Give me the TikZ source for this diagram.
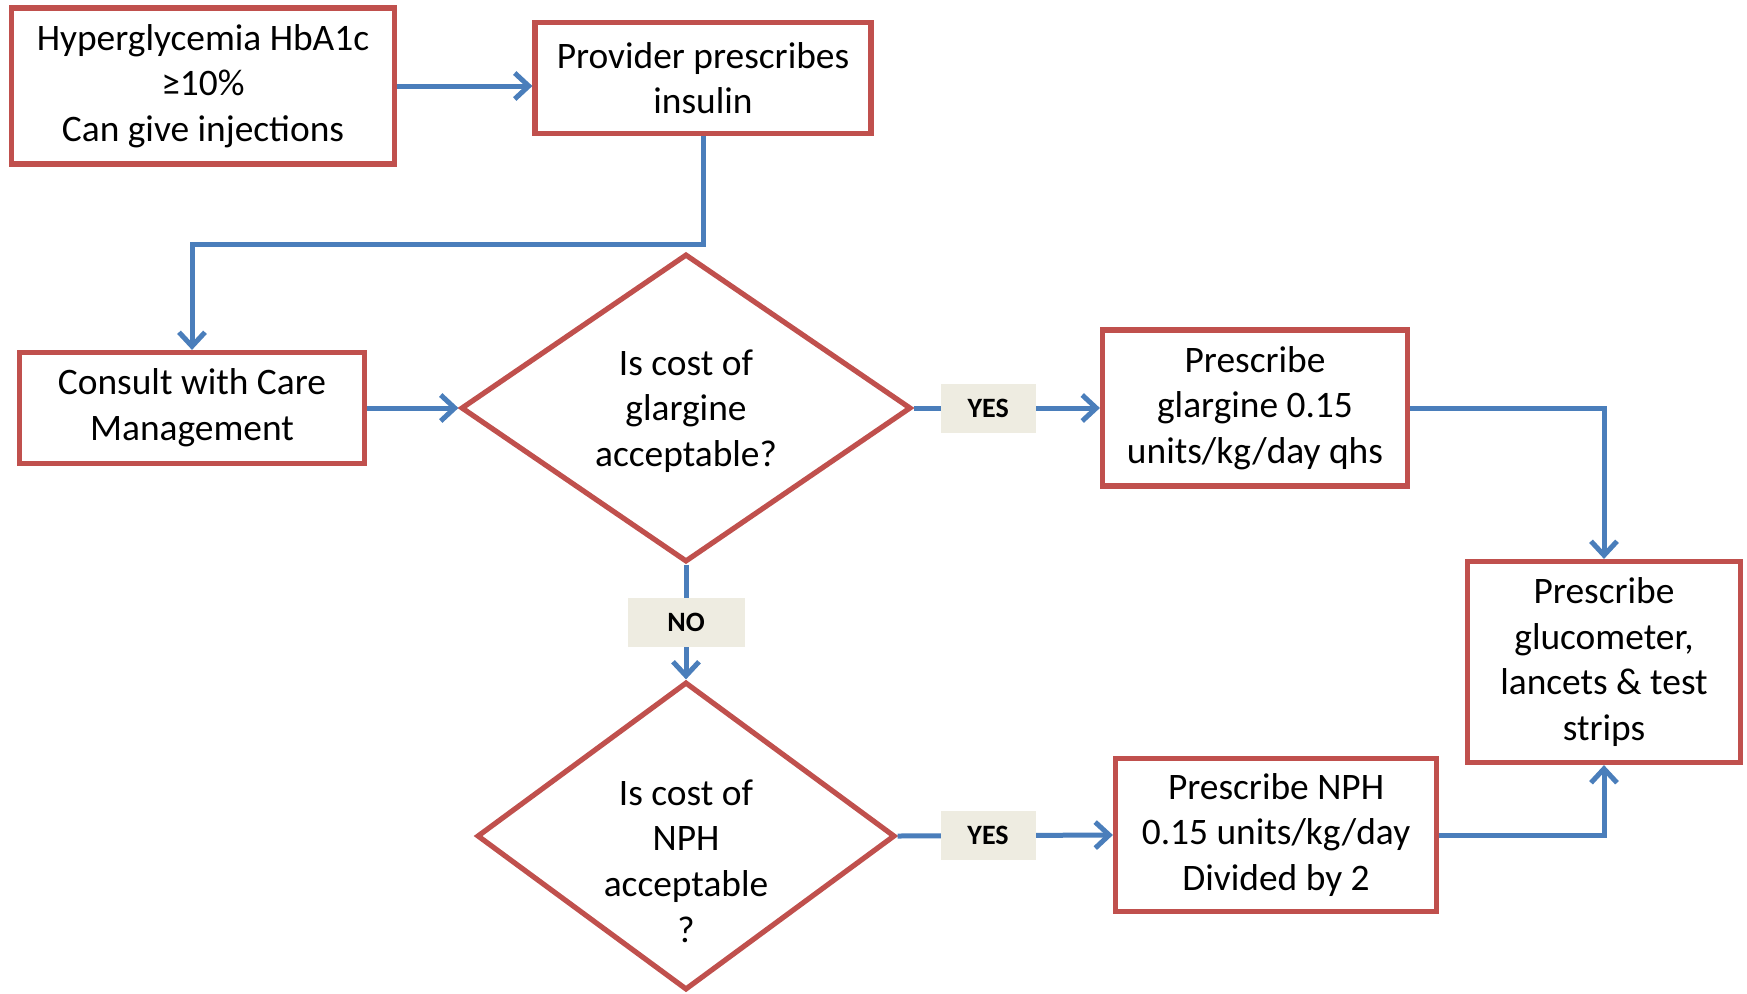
\documentclass[tikz,border=0pt]{standalone}
\usepackage{fontspec}
\setmainfont{Carlito}
\usetikzlibrary{shapes.geometric,arrows.meta}
\definecolor{boxred}{HTML}{C0504D}
\definecolor{lineblue}{HTML}{4A7EBB}
\definecolor{lblfill}{HTML}{EEECE1}
\begin{document}
\begin{tikzpicture}[x=0.5pt,y=-0.5pt,
  every node/.style={font=\fontsize{18.7}{22.8}\selectfont},
  stepbox/.style={draw=boxred,line width=2.6pt,fill=white,align=center,inner sep=0pt},
  decbox/.style={draw=boxred,line width=2.6pt,fill=white,shape=diamond,inner sep=0pt},
  lbl/.style={fill=lblfill,font=\fontsize{14}{16}\bfseries,minimum width=47.5pt,minimum height=24.5pt,inner sep=0pt},
  conn/.style={draw=lineblue,line width=2.5pt},
  arr/.style={conn,-{Straight Barb[length=7pt,width=13pt]}}]
\useasboundingbox (0,0) rectangle (1747,993);
\node[stepbox,minimum width=191.5pt,minimum height=78pt] (hyp) at (203,86) {Hyperglycemia HbA1c\\≥10\%\\Can give injections};
\node[stepbox,minimum width=168pt,minimum height=55.5pt] (prov) at (703,78) {Provider prescribes\\insulin};
\node[stepbox,minimum width=172.5pt,minimum height=55.5pt] (cons) at (192,408) {Consult with Care\\Management};
\node[decbox,minimum width=225pt,minimum height=154pt] (d1) at (686,408) {};
\node[align=center] (d1t) at (686,411) {Is cost of\\glargine\\acceptable?};
\node[stepbox,minimum width=152.5pt,minimum height=78pt] (glar) at (1255,408) {Prescribe\\glargine 0.15\\units/kg/day qhs};
\node[stepbox,minimum width=136.5pt,minimum height=100.5pt] (gluc) at (1604,662) {Prescribe\\glucometer,\\lancets \& test\\strips};
\node[decbox,minimum width=209pt,minimum height=154pt] (d2) at (686,836) {};
\node[align=center] (d2t) at (686,861) {Is cost of\\NPH\\acceptable\\?};
\node[stepbox,minimum width=160.5pt,minimum height=76.5pt] (nph) at (1276,835) {Prescribe NPH\\0.15 units/kg/day\\Divided by 2};
\draw[arr] (hyp.east) -- (hyp.east -| prov.west);
\draw[arr] (prov.south) -- ++(0,108) -| (cons.north);
\draw[arr] (cons.east) -- (d1.west);
\draw[arr] (d1.east) -- node[lbl,pos=0.40] (yes1) {YES} (glar.west);
\draw[arr] (glar.east) -| (gluc.north);
\draw[arr] (d1.south) -- node[lbl,pos=0.5,minimum width=58.5pt] (no1) {NO} (d2.north);
\draw[arr] (d2.east) -- node[lbl,pos=0.42] (yes2) {YES} (nph.west);
\draw[arr] (nph.east) -| (gluc.south);
\end{tikzpicture}
\end{document}
